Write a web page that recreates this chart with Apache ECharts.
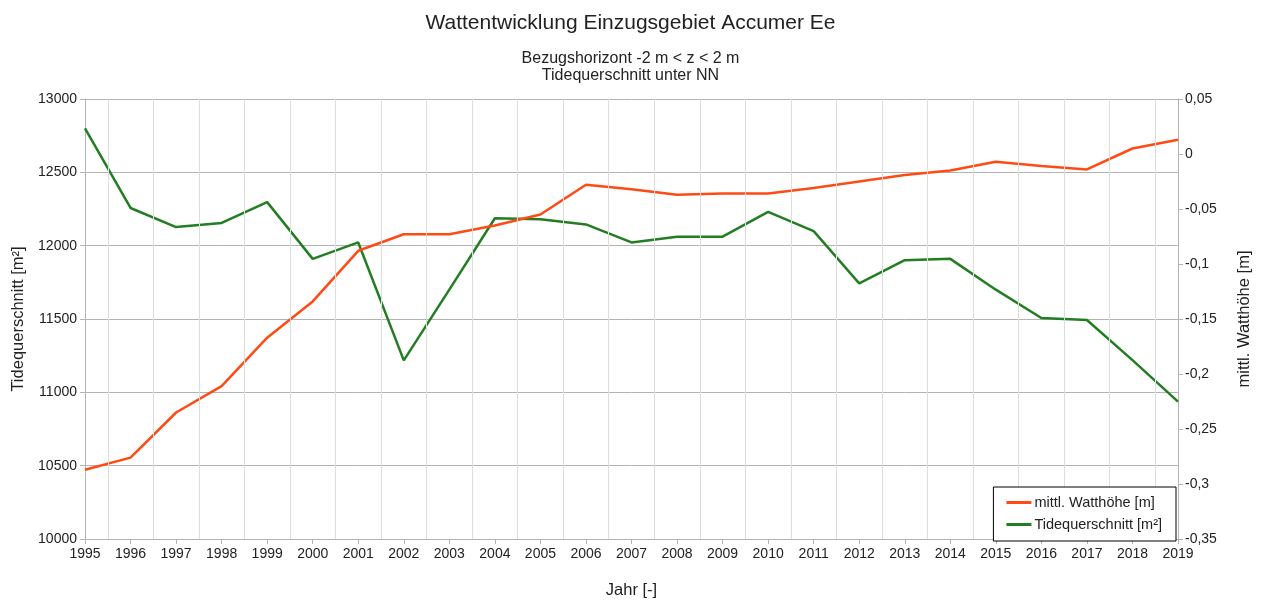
<!DOCTYPE html>
<html>
<head>
<meta charset="utf-8">
<title>Wattentwicklung Einzugsgebiet Accumer Ee</title>
<script src="https://cdn.jsdelivr.net/npm/echarts@6/dist/echarts.min.js"></script>
<style>
  html, body { margin: 0; padding: 0; background: #fff; }
  #chart { width: 1261px; height: 604px; }
</style>
</head>
<body>
<div id="chart"></div>
<script>
// Jahre der Auswertung
const years = [1995, 1996, 1997, 1998, 1999, 2000, 2001, 2002, 2003, 2004, 2005, 2006,
  2007, 2008, 2009, 2010, 2011, 2012, 2013, 2014, 2015, 2016, 2017, 2018, 2019];

// mittlere Watthöhe [m] (rechte Achse)
const watthoehe = [-0.287, -0.276, -0.235, -0.211, -0.167, -0.134, -0.088, -0.073, -0.073,
  -0.065, -0.055, -0.028, -0.032, -0.037, -0.036, -0.036, -0.031, -0.025, -0.019, -0.015,
  -0.007, -0.011, -0.014, 0.005, 0.013];

// Tidequerschnitt [m²] (linke Achse)
const tidequerschnitt = [12800, 12257, 12127, 12155, 12297, 11910, 12022, 11218, 11700,
  12187, 12180, 12145, 12022, 12061, 12061, 12230, 12099, 11743, 11901, 11910,
  11700, 11507, 11493, 11220, 10937];

const FONT = 'Liberation Sans';
const TEXT = '#222';

const chart = echarts.init(document.getElementById('chart'), null, { renderer: 'canvas' });

const pairs = (vals) => years.map((y, i) => [y, vals[i]]);
// vertical grid lines sit between the years
const midLines = years.slice(0, -1).map(y => ({ xAxis: y + 0.5 }));

chart.setOption({
  animation: false,
  backgroundColor: '#fff',
  textStyle: { fontFamily: FONT },
  title: {
    text: 'Wattentwicklung Einzugsgebiet Accumer Ee',
    subtext: 'Bezugshorizont -2 m < z < 2 m\nTidequerschnitt unter NN',
    left: 'center',
    top: 8,
    itemGap: 16,
    textStyle: { fontFamily: FONT, fontSize: 21, fontWeight: 'normal', color: TEXT },
    subtextStyle: { fontFamily: FONT, fontSize: 16, color: TEXT, lineHeight: 17 }
  },
  legend: {
    data: ['mittl. Watthöhe [m]', 'Tidequerschnitt [m²]'],
    orient: 'vertical',
    right: 85,
    bottom: 63,
    zlevel: 1,
    padding: [8, 14, 9, 13],
    itemGap: 7,
    itemWidth: 25,
    itemHeight: 3,
    icon: 'rect',
    borderColor: '#000',
    borderWidth: 1,
    backgroundColor: '#fff',
    textStyle: { fontFamily: FONT, fontSize: 14.5, color: TEXT, padding: [0, 0, 0, -2] }
  },
  grid: { left: 85, right: 83, top: 99, bottom: 61 },
  xAxis: {
    type: 'value',
    min: 1995,
    max: 2019,
    interval: 1,
    name: 'Jahr [-]',
    nameLocation: 'middle',
    nameGap: 43,
    nameTextStyle: { fontFamily: FONT, fontSize: 16.5, color: TEXT },
    axisLine: { onZero: false, lineStyle: { color: '#b3b3b3' } },
    axisTick: { show: true, length: 5, lineStyle: { color: '#b3b3b3' } },
    axisLabel: { fontFamily: FONT, fontSize: 14, color: TEXT, margin: 8, formatter: v => String(v) },
    splitLine: { show: false }
  },
  yAxis: [
    {
      type: 'value',
      min: 10000,
      max: 13000,
      interval: 500,
      position: 'left',
      name: 'Tidequerschnitt [m²]',
      nameLocation: 'middle',
      nameRotate: 90,
      nameGap: 57,
      nameTextStyle: { fontFamily: FONT, fontSize: 16.5, color: TEXT },
      axisLine: { show: true, onZero: false, lineStyle: { color: '#b3b3b3' } },
      axisTick: { show: true, length: 5, lineStyle: { color: '#b3b3b3' } },
      axisLabel: { fontFamily: FONT, fontSize: 14, color: TEXT, margin: 8, formatter: v => String(v) },
      splitLine: { show: true, lineStyle: { color: '#b3b3b3', width: 1 } }
    },
    {
      type: 'value',
      min: -0.35,
      max: 0.05,
      interval: 0.05,
      position: 'right',
      name: 'mittl. Watthöhe [m]',
      nameLocation: 'middle',
      nameRotate: 90,
      nameGap: 58,
      nameTextStyle: { fontFamily: FONT, fontSize: 16.5, color: TEXT },
      axisLine: { show: true, onZero: false, lineStyle: { color: '#b3b3b3' } },
      axisTick: { show: true, length: 5, lineStyle: { color: '#b3b3b3' } },
      axisLabel: {
        fontFamily: FONT, fontSize: 14, color: TEXT, margin: 7,
        formatter: v => String(+v.toFixed(2)).replace('.', ',')
      },
      splitLine: { show: false }
    }
  ],
  series: [
    {
      // carries the vertical grid lines only
      name: 'raster',
      type: 'line',
      data: [],
      z: 0,
      silent: true,
      markLine: {
        silent: true,
        symbol: 'none',
        label: { show: false },
        lineStyle: { color: '#dddddd', width: 1, type: 'solid' },
        data: midLines
      }
    },
    {
      name: 'mittl. Watthöhe [m]',
      type: 'line',
      yAxisIndex: 1,
      data: pairs(watthoehe),
      showSymbol: false,
      z: 3,
      color: '#ff4a14',
      lineStyle: { color: '#ff4a14', width: 2.5 }
    },
    {
      name: 'Tidequerschnitt [m²]',
      type: 'line',
      yAxisIndex: 0,
      data: pairs(tidequerschnitt),
      showSymbol: false,
      z: 2,
      color: '#237d23',
      lineStyle: { color: '#237d23', width: 2.5 }
    }
  ]
});
</script>
</body>
</html>
